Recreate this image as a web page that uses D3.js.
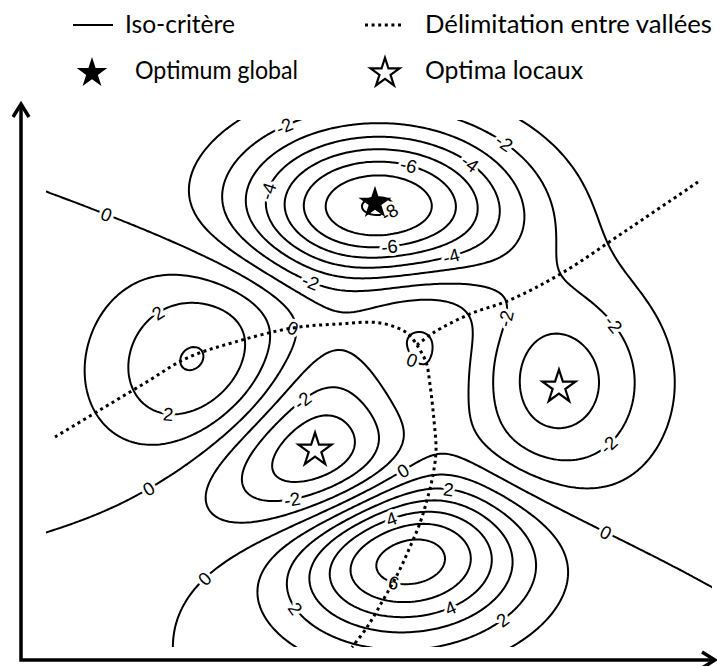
<!DOCTYPE html>
<html><head><meta charset="utf-8">
<script src="https://cdn.jsdelivr.net/npm/d3@7"></script>
<style>body{margin:0;background:#fff}svg{display:block}</style>
</head><body>
<svg id="chart" width="717" height="666"></svg>
<script>
// ---------- data ----------
const xDomain = [-2.4, 2.4];
const yDomain = [-2.4, 2.36];
const levels = [-8, -7, -6, -5, -4, -3, -2, -1, 0, 1, 2, 3, 4, 5, 6];

// criterion surface (peaks-type landscape, sign inverted: minima are the optima)
function criterion(x, y) {
  const a = 3 * Math.pow(1 - x, 2) * Math.exp(-x * x - Math.pow(y + 1, 2));
  const b = 10 * (x / 5 - Math.pow(x, 3) - Math.pow(y, 5)) * Math.exp(-x * x - y * y);
  const c = Math.exp(-Math.pow(x + 1, 2) - y * y) / 3;
  return -(a - b - c);
}

// contour labels (level, approximate location in criterion space)
const labelValue = [-2, -4, -6, -8, -4, -6, -4, -2, -2, 0, 2, 2, -2, 0, 0, -2, 0, 2, 4, 6, 4, 2, 2, -2, -2, -2, 0, 0, 0];
const labelX = [-0.663, -0.771, 0.202, 0.079, 0.634, 0.079, 0.526, -0.497, 0.886, -1.975, -1.578, -1.521, -0.533, -1.650, -1.240, -0.620, 0.187, 0.497, 0.094, 0.101, 0.526, 0.908, -0.627, 0.959, 1.679, 1.686, 1.629, -0.620, 0.238];
const labelY = [2.27, 1.71, 1.918, 1.521, 1.945, 1.186, 1.114, 0.888, 2.135, 1.475, 0.599, -0.322, -0.196, -0.983, -1.795, -1.09, -0.828, -1.000, -1.253, -1.831, -2.066, -2.174, -2.066, 0.554, 0.509, -0.602, -1.371, 0.482, 0.193];
const labelSnap = labelValue.map((v, i) => i < 27);

// valley delimitation (dotted) polylines
const valleyA_X = [-2.335, -2.011, -1.686, -1.384, -1.038, -0.620, -0.281, 0.007, 0.202, 0.274];
const valleyA_Y = [-0.503, -0.259, -0.015, 0.210, 0.355, 0.482, 0.518, 0.527, 0.436, 0.327];
const valleyB_X = [0.274, 0.389, 0.656, 0.944, 1.319, 1.809, 2.299];
const valleyB_Y = [0.327, 0.436, 0.608, 0.734, 0.978, 1.385, 1.800];
const valleyC_X = [0.274, 0.339, 0.368, 0.396, 0.411, 0.389, 0.346, 0.295, 0.223, 0.137, 0.029, -0.086, -0.195];
const valleyC_Y = [0.327, 0.174, -0.034, -0.350, -0.621, -0.847, -1.073, -1.281, -1.498, -1.733, -1.977, -2.221, -2.402];

// optima
const optimaX = [-0.029, 1.297, -0.461];
const optimaY = [1.61, -0.051, -0.621];
const optimaKind = ["global", "local", "local"];

// legend
const legendLabels = ["Iso-critère", "Délimitation entre vallées", "Optimum global", "Optima locaux"];

// ---------- drawing ----------
const svg = d3.select("#chart");
const plotLeft = 46, plotRight = 712, plotTop = 120, plotBottom = 647;
const x = d3.scaleLinear().domain(xDomain).range([plotLeft, plotRight]);
const y = d3.scaleLinear().domain(yDomain).range([plotBottom, plotTop]);

const step = 0.02, pad = 3;
const nx = Math.round((xDomain[1] - xDomain[0]) / step) + 1 + 2 * pad;
const ny = Math.round((yDomain[1] - yDomain[0]) / step) + 1 + 2 * pad;
const values = new Array(nx * ny);
for (let j = 0; j < ny; j++) for (let i = 0; i < nx; i++) {
  values[j * nx + i] = criterion(xDomain[0] + (i - pad) * step, yDomain[1] - (j - pad) * step);
}
const contours = d3.contours().size([nx, ny]).thresholds(levels)(values);
const gxToPx = gx => x(xDomain[0] + (gx - 0.5 - pad) * step);
const gyToPx = gy => y(yDomain[1] - (gy - 0.5 - pad) * step);

svg.append("defs").append("clipPath").attr("id", "plotClip")
  .append("rect").attr("x", plotLeft).attr("y", plotTop)
  .attr("width", plotRight - plotLeft).attr("height", plotBottom - plotTop);

const gC = svg.append("g").attr("clip-path", "url(#plotClip)");
gC.selectAll("path.iso").data(contours).join("path")
  .attr("class", "iso")
  .attr("fill", "none").attr("stroke", "#000").attr("stroke-width", 2)
  .attr("stroke-linejoin", "round")
  .attr("d", c => c.coordinates.map(poly => poly.map(ring =>
      "M" + ring.map(p => gxToPx(p[0]).toFixed(2) + "," + gyToPx(p[1]).toFixed(2)).join("L") + "Z").join("")).join(""));

// labels snapped on their contour and oriented along it
function grad(px, py) {
  const h = 1e-4;
  return [(criterion(px + h, py) - criterion(px - h, py)) / (2 * h),
          (criterion(px, py + h) - criterion(px, py - h)) / (2 * h)];
}
const labelData = labelValue.map((v, k) => {
  let px = labelX[k], py = labelY[k];
  for (let it = 0; labelSnap[k] && it < 8; it++) {
    const f = criterion(px, py) - v, g = grad(px, py);
    const n2 = g[0] * g[0] + g[1] * g[1];
    if (n2 < 1e-9) break;
    let dx = -f * g[0] / n2, dy = -f * g[1] / n2;
    const len = Math.hypot(dx, dy);
    if (len > 0.04) { dx *= 0.04 / len; dy *= 0.04 / len; }
    px += dx; py += dy;
  }
  const g = grad(px, py);
  const sx = (x(1) - x(0)), sy = (y(1) - y(0));
  const gpx = g[0] / sx, gpy = g[1] / sy;
  let ang = labelSnap[k] ? Math.atan2(gpx, -gpy) * 180 / Math.PI : 20;
  if (ang > 90) ang -= 180;
  if (ang < -90) ang += 180;
  return {v, X: x(px), Y: y(py), ang};
});
svg.append("g").selectAll("text").data(labelData).join("text")
  .attr("transform", d => `translate(${d.X},${d.Y}) rotate(${d.ang})`)
  .attr("text-anchor", "middle").attr("dy", "0.36em")
  .attr("font-family", "Liberation Sans, Arial, sans-serif").attr("font-size", 18.5)
  .attr("fill", "#000").attr("stroke", "#fff").attr("stroke-width", 6)
  .attr("paint-order", "stroke").attr("stroke-linejoin", "round")
  .text(d => String(d.v));

// valley delimitations
const line = d3.line().x(d => x(d[0])).y(d => y(d[1])).curve(d3.curveCatmullRom);
[[valleyA_X, valleyA_Y], [valleyB_X, valleyB_Y], [valleyC_X, valleyC_Y]].forEach(([xs, ys]) => {
  svg.append("path").datum(xs.map((v, i) => [v, ys[i]]))
    .attr("d", line).attr("fill", "none").attr("stroke", "#000")
    .attr("stroke-width", 3).attr("stroke-dasharray", "3,3.6");
});

// optima stars
const star = d3.symbol().type(d3.symbolStar).size(340);
svg.append("g").selectAll("path").data(optimaX.map((v, i) => ({x: v, y: optimaY[i], k: optimaKind[i]})))
  .join("path").attr("d", star)
  .attr("transform", d => `translate(${x(d.x)},${y(d.y)})`)
  .attr("fill", d => d.k === "global" ? "#000" : "#fff")
  .attr("stroke", "#000").attr("stroke-width", d => d.k === "global" ? 0 : 2.2)
  .attr("stroke-linejoin", "miter");

// axes
const ax = svg.append("g").attr("stroke", "#000").attr("stroke-width", 3.5).attr("fill", "none");
ax.append("path").attr("d", "M21,104 L21,660 L715,660").attr("stroke-linejoin", "miter");
ax.append("path").attr("d", "M13,117 L21,104 L29,117").attr("stroke-linejoin", "miter");
ax.append("path").attr("d", "M702,652 L715,660 L702,668").attr("stroke-linejoin", "miter");

// legend
const lg = svg.append("g");
lg.append("line").attr("x1", 73).attr("x2", 113).attr("y1", 25).attr("y2", 25)
  .attr("stroke", "#000").attr("stroke-width", 2);
lg.append("line").attr("x1", 365).attr("x2", 404).attr("y1", 25).attr("y2", 25)
  .attr("stroke", "#000").attr("stroke-width", 3).attr("stroke-dasharray", "3,3.6");
lg.append("path").attr("d", d3.symbol().type(d3.symbolStar).size(290)())
  .attr("transform", "translate(92,73)").attr("fill", "#000");
lg.append("path").attr("d", d3.symbol().type(d3.symbolStar).size(260)())
  .attr("transform", "translate(385,73)").attr("fill", "#fff").attr("stroke", "#000").attr("stroke-width", 2.2);
const legendPos = [[125, 33, 110], [425, 33, 287], [135, 79, 163], [425, 79, 158]];
lg.selectAll("text").data(legendLabels).join("text")
  .attr("x", (d, i) => legendPos[i][0]).attr("y", (d, i) => legendPos[i][1])
  .attr("textLength", (d, i) => legendPos[i][2]).attr("lengthAdjust", "spacingAndGlyphs")
  .attr("font-family", "Lato, 'Open Sans', sans-serif").attr("font-size", 25)
  .attr("fill", "#000").text(d => d);
</script>
</body></html>
